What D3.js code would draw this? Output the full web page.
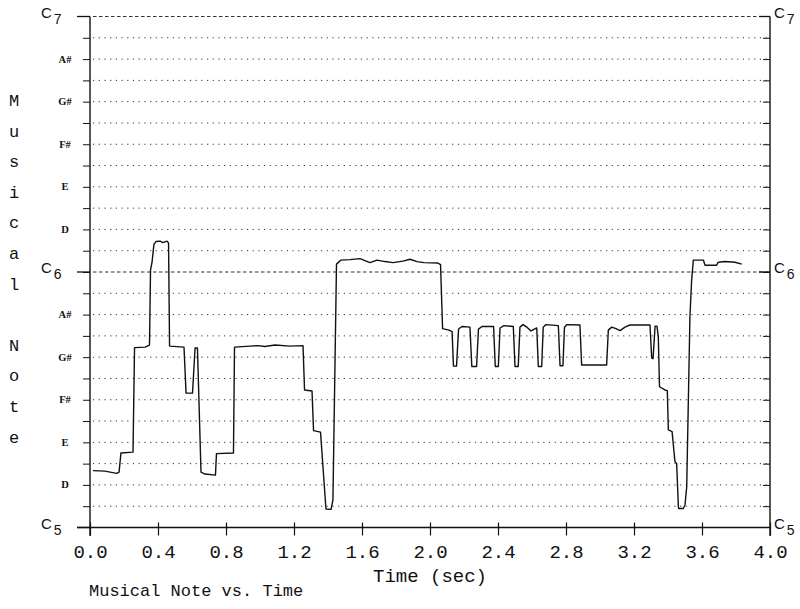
<!DOCTYPE html>
<html>
<head>
<meta charset="utf-8">
<script src="https://cdn.jsdelivr.net/npm/d3@7/dist/d3.min.js"></script>
<style>
  body { margin: 0; background: #fff; }
  svg { display: block; }
</style>
</head>
<body>
<svg id="chart" width="800" height="609"></svg>
<script>
// pitch track, time in seconds, pitch in semitones above C5
const timeSec = [
  0.018, 0.088, 0.157, 0.171, 0.182, 0.253, 0.262, 0.324, 0.350, 0.356,
  0.365, 0.376, 0.388, 0.412, 0.429, 0.453, 0.462, 0.468, 0.553, 0.565,
  0.603, 0.618, 0.632, 0.653, 0.676, 0.738, 0.744, 0.844, 0.850, 0.941,
  0.988, 1.029, 1.088, 1.176, 1.253, 1.262, 1.306, 1.315, 1.356, 1.388,
  1.418, 1.429, 1.450, 1.476, 1.529, 1.588, 1.647, 1.688, 1.735, 1.782,
  1.841, 1.882, 1.924, 1.965, 2.047, 2.062, 2.074, 2.112, 2.130, 2.138,
  2.156, 2.168, 2.188, 2.235, 2.246, 2.274, 2.285, 2.306, 2.374, 2.384,
  2.402, 2.412, 2.435, 2.490, 2.500, 2.519, 2.529, 2.547, 2.570, 2.594,
  2.628, 2.637, 2.657, 2.666, 2.682, 2.755, 2.765, 2.782, 2.791, 2.806,
  2.882, 2.892, 3.039, 3.049, 3.069, 3.094, 3.118, 3.147, 3.176, 3.294,
  3.304, 3.312, 3.324, 3.335, 3.343, 3.350, 3.382, 3.396, 3.402, 3.424,
  3.441, 3.451, 3.461, 3.463, 3.490, 3.500, 3.510, 3.519, 3.529, 3.539,
  3.549, 3.608, 3.618, 3.686, 3.696, 3.735, 3.794, 3.834
];
const pitchSemi = [
  2.67, 2.65, 2.54, 2.60, 3.50, 3.54, 8.45, 8.47, 8.57, 12.10,
  12.46, 13.30, 13.43, 13.45, 13.38, 13.45, 13.36, 8.52, 8.47, 6.31,
  6.31, 8.43, 8.43, 2.60, 2.51, 2.46, 3.47, 3.50, 8.47, 8.52,
  8.54, 8.50, 8.57, 8.52, 8.54, 6.46, 6.41, 4.55, 4.48, 0.87,
  0.85, 1.29, 12.37, 12.56, 12.58, 12.63, 12.44, 12.56, 12.49, 12.44,
  12.51, 12.60, 12.49, 12.44, 12.42, 12.35, 9.34, 9.27, 9.20, 7.58,
  7.58, 9.32, 9.44, 9.41, 7.56, 7.56, 9.32, 9.44, 9.44, 7.56,
  7.56, 9.37, 9.48, 9.44, 7.56, 7.56, 9.41, 9.53, 9.41, 9.23,
  9.37, 7.56, 7.56, 9.41, 9.53, 9.48, 7.60, 7.60, 9.41, 9.53,
  9.51, 7.63, 7.63, 9.27, 9.41, 9.34, 9.25, 9.41, 9.51, 9.51,
  7.96, 7.93, 9.46, 9.46, 8.96, 6.61, 6.46, 6.43, 4.58, 4.50,
  3.09, 3.01, 0.98, 0.89, 0.89, 1.06, 1.90, 5.67, 9.90, 11.62,
  12.56, 12.56, 12.32, 12.32, 12.46, 12.49, 12.46, 12.37
];

const xTicks = [0, 0.4, 0.8, 1.2, 1.6, 2.0, 2.4, 2.8, 3.2, 3.6, 4.0];
const noteSteps = [2, 4, 6, 8, 10, 14, 16, 18, 20, 22];
const noteNames = ['D', 'E', 'F#', 'G#', 'A#', 'D', 'E', 'F#', 'G#', 'A#'];
const cSteps = [0, 12, 24];
const cOctaves = ['5', '6', '7'];
const yTitle = 'Musical Note';

const svg = d3.select('#chart');
const LEFT = 90, RIGHT = 770, TOP = 16.5, BOTTOM = 527.5;
const MONO = '"Liberation Mono", "Courier New", monospace';

const x = d3.scaleLinear().domain([0, 4]).range([LEFT, RIGHT]);
const y = d3.scaleLinear().domain([0, 24]).range([BOTTOM, TOP]);

// dotted semitone grid, dashed at the C lines
const gridSteps = d3.range(1, 25);
svg.append('g').selectAll('line').data(gridSteps).enter().append('line')
  .attr('x1', LEFT + 3).attr('x2', RIGHT - 1)
  .attr('y1', d => y(d)).attr('y2', d => y(d))
  .attr('stroke', '#333')
  .attr('stroke-width', 1)
  .attr('stroke-dasharray', d => d % 12 === 0 ? '3.5,2.5' : '1.2,4.5');

// left axis, ticks outward
const leftAxis = svg.append('g').attr('transform', `translate(${LEFT},0)`)
  .call(d3.axisLeft(y).tickValues(d3.range(1, 24)).tickSize(7).tickFormat(''));
leftAxis.select('.domain').remove();
leftAxis.selectAll('line').attr('stroke', '#111');

// right axis, ticks inward
const rightAxis = svg.append('g').attr('transform', `translate(${RIGHT},0)`)
  .call(d3.axisLeft(y).tickValues(d3.range(1, 24)).tickSize(7).tickFormat(''));
rightAxis.select('.domain').remove();
rightAxis.selectAll('line').attr('stroke', '#111');

// vertical frame lines
svg.append('line').attr('x1', LEFT).attr('x2', LEFT).attr('y1', TOP).attr('y2', BOTTOM + 8.5)
  .attr('stroke', '#111').attr('stroke-width', 1.4);
svg.append('line').attr('x1', RIGHT).attr('x2', RIGHT).attr('y1', TOP).attr('y2', BOTTOM + 8.5)
  .attr('stroke', '#111').attr('stroke-width', 1.4);

// long ticks at the C lines
svg.append('g').selectAll('line').data(cSteps).enter().append('line')
  .attr('x1', LEFT - 13).attr('x2', LEFT)
  .attr('y1', d => y(d)).attr('y2', d => y(d))
  .attr('stroke', '#111').attr('stroke-width', 1.3);
svg.append('g').selectAll('line').data(cSteps.slice(1)).enter().append('line')
  .attr('x1', RIGHT - 11).attr('x2', RIGHT)
  .attr('y1', d => y(d)).attr('y2', d => y(d))
  .attr('stroke', '#111').attr('stroke-width', 1.3);

// x axis
svg.append('line').attr('x1', LEFT - 13).attr('x2', RIGHT).attr('y1', BOTTOM).attr('y2', BOTTOM)
  .attr('stroke', '#111').attr('stroke-width', 1.4);
const xAxis = svg.append('g').attr('transform', `translate(0,${BOTTOM})`)
  .call(d3.axisBottom(x).tickValues(xTicks).tickSizeOuter(0).tickFormat(d3.format('.1f')));
xAxis.select('.domain').remove();
xAxis.selectAll('line').attr('y1', -5).attr('y2', 8).attr('stroke', '#111').attr('stroke-width', 1.2);
xAxis.selectAll('text')
  .attr('y', 30).attr('dy', null)
  .attr('font-family', MONO).attr('font-size', 19).attr('fill', '#111');

// note names on the left
svg.append('g').selectAll('text').data(noteSteps).enter().append('text')
  .attr('x', 65).attr('y', d => y(d) + 3.5)
  .attr('text-anchor', 'middle')
  .attr('font-family', '"Liberation Serif", serif')
  .attr('font-weight', 'bold')
  .attr('font-size', 10.5)
  .attr('fill', '#111')
  .text((d, i) => noteNames[i]);

// C labels with octave subscript, both sides
function cLabel(xPos, step, octave) {
  const t = svg.append('text').attr('x', xPos).attr('y', y(step) + 1)
    .attr('font-family', '"Liberation Sans", Arial, sans-serif')
    .attr('font-size', 15).attr('fill', '#111');
  t.append('tspan').text('C');
  t.append('tspan').attr('dx', 2).attr('dy', 6).attr('font-size', 14).text(octave);
}
cSteps.forEach((s, i) => { cLabel(41, s, cOctaves[i]); cLabel(774, s, cOctaves[i]); });

// pitch curve
const line = d3.line().x(d => x(d[0])).y(d => y(d[1]));
svg.append('path')
  .datum(timeSec.map((t, i) => [t, pitchSemi[i]]))
  .attr('d', line)
  .attr('fill', 'none')
  .attr('stroke', '#111')
  .attr('stroke-width', 1.4)
  .attr('stroke-linejoin', 'round');

// stacked y title
svg.append('g').selectAll('text').data(yTitle.split('')).enter().append('text')
  .attr('x', 14).attr('y', (d, i) => 106 + i * 30.6)
  .attr('text-anchor', 'middle')
  .attr('font-family', MONO).attr('font-size', 17).attr('fill', '#111')
  .text(d => d);

// x title and caption
svg.append('text').attr('x', 430).attr('y', 582).attr('text-anchor', 'middle')
  .attr('font-family', MONO).attr('font-size', 19).attr('fill', '#111')
  .text('Time (sec)');
svg.append('text').attr('x', 89).attr('y', 596)
  .attr('font-family', MONO).attr('font-size', 17).attr('fill', '#111')
  .text('Musical Note vs. Time');
</script>
</body>
</html>
